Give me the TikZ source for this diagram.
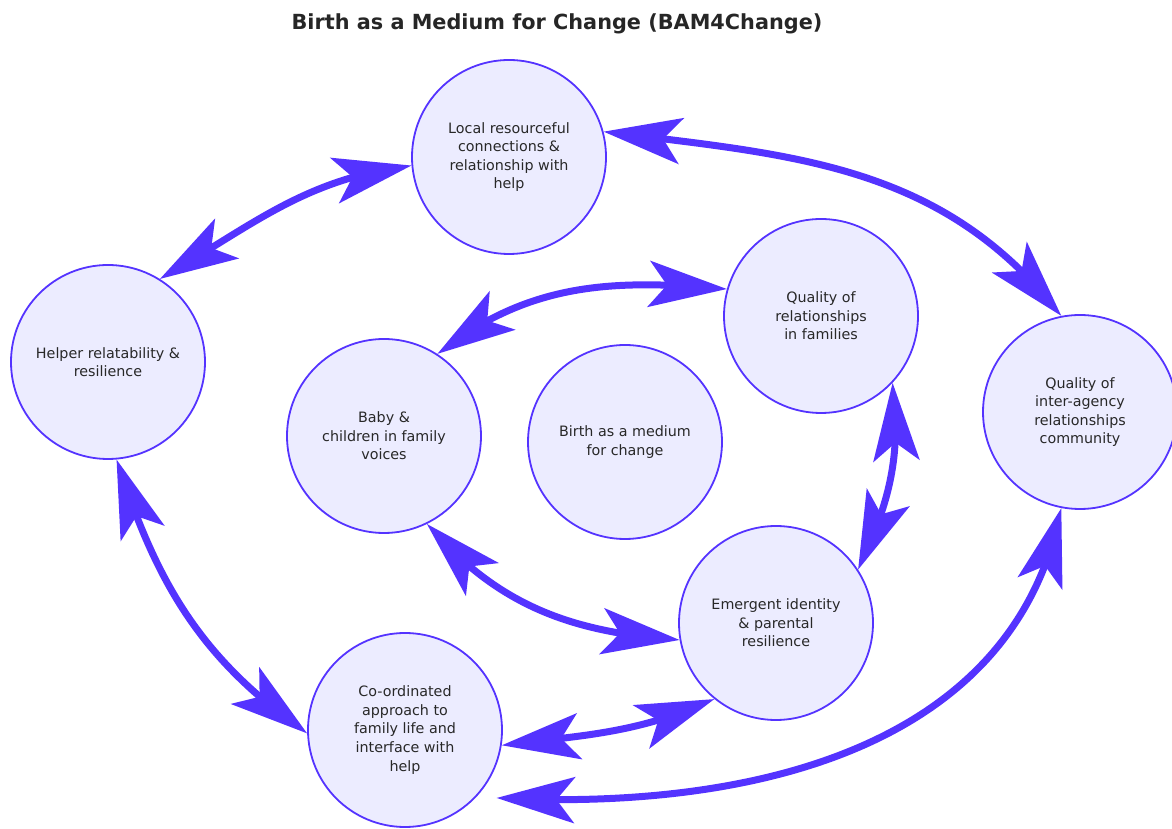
\documentclass[tikz,border=0pt]{standalone}
\usepackage{fontspec}
\setmainfont{DejaVu Sans}
\usetikzlibrary{arrows.meta,bending,calc}
\definecolor{edge}{RGB}{84,51,255}
\definecolor{nodefill}{RGB}{236,236,255}
\definecolor{txt}{RGB}{40,40,40}
\begin{document}
\begin{tikzpicture}[x=1pt,y=1pt,
  circ/.style={circle, draw=edge, line width=1.8pt, fill=nodefill, minimum size=194pt,
    inner sep=0pt, align=center, text=txt, font=\fontsize{14.3}{18.6}\selectfont},
  link/.style={draw=edge, line width=7pt,
    >={Stealth[length=78pt,width=46pt,inset=18pt]}, <->}]
\useasboundingbox (0,0) rectangle (1172,829);
\node[font=\bfseries\fontsize{20.8}{24}\selectfont, text=black!85] (title) at (557,805) {Birth as a Medium for Change (BAM4Change)};
\node[circ] (local) at (509,672) {Local resourceful\\connections \&\\relationship with\\help};
\node[circ] (helper) at (108,467) {Helper relatability \&\\resilience};
\node[circ] (qf) at (821,513) {Quality of\\relationships\\in families};
\node[circ] (baby) at (384,393) {Baby \&\\children in family\\voices};
\node[circ] (birth) at (625,387) {Birth as a medium\\for change};
\node[circ] (inter) at (1080,417) {Quality of\\inter-agency\\relationships\\community};
\node[circ] (emerg) at (776,206) {Emergent identity\\\& parental\\resilience};
\node[circ] (coord) at (405,99) {Co-ordinated\\approach to\\family life and\\interface with\\help};
\draw[link] (helper.58) to[out=30,in=187] (local.185);
\draw[link] (local.15) to[out=-7,in=128] (inter.101);
\draw[link] (qf.164) to[out=175,in=38] (baby.57);
\draw[link] (qf.-43) to[out=-83,in=65] (emerg.33);
\draw[link] (baby.-64) to[out=-49,in=176] (emerg.190);
\draw[link] (helper.-85) to[out=-72,in=145] (coord.182);
\draw[link] (coord.-9) to[out=7,in=204] (emerg.231);
\draw[link] ($(coord.center)+(-36.6:114)$) to[out=-3,in=259] (inter.259);
\end{tikzpicture}
\end{document}
